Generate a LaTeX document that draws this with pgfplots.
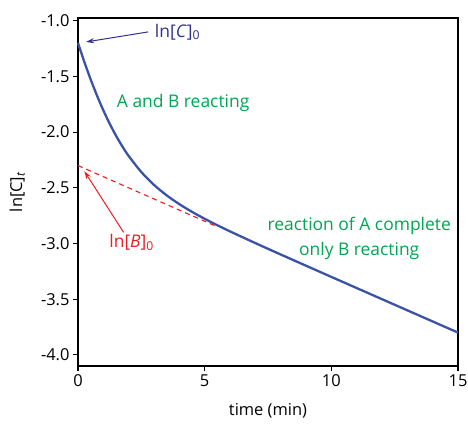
\documentclass[border=0pt]{standalone}
\usepackage{pgfplots}
\pgfplotsset{compat=1.18}
\usetikzlibrary{arrows.meta}
\usepackage{fontspec}
\setmainfont{Open Sans}
\definecolor{curveblue}{HTML}{3A53A4}
\definecolor{navy}{HTML}{2E3192}
\definecolor{myred}{HTML}{ED1C24}
\definecolor{mygreen}{HTML}{00A651}
\begin{document}
\begin{tikzpicture}
\begin{axis}[name=ax, scale only axis, width=380bp, height=348bp,
  xmin=0, xmax=15, ymin=-4.10, ymax=-0.975,
  xtick={0,5,10,15},
  ytick={-4.0,-3.5,-3.0,-2.5,-2.0,-1.5,-1.0},
  yticklabel style={/pgf/number format/.cd, fixed, fixed zerofill, precision=1},
  /pgf/number format/assume math mode=true,
  tick align=outside, tick pos=left, major tick length=5bp,
  every tick/.style={black, line width=1.1bp},
  axis line style={line width=1.2bp},
  tick label style={font=\fontsize{16.5}{19}\selectfont},
  label style={font=\fontsize{16.5}{19}\selectfont},
  xlabel={time (min)}, ylabel={ln[C]\textsubscript{\textit{t}}},
  xlabel style={at={(axis description cs:0.5,-0.129)}, anchor=center},
  ylabel style={at={(axis description cs:-0.16,0.5)}, anchor=center},
  clip=false]
\addplot[curveblue, line width=2.3bp, smooth] coordinates {
(0,-1.2000) (0.25,-1.3694) (0.5,-1.5267) (0.75,-1.6717) (1,-1.8040)
(1.25,-1.9238) (1.5,-2.0316) (1.75,-2.1280) (2,-2.2139) (2.5,-2.3584)
(3,-2.4736) (3.5,-2.5676) (4,-2.6467) (4.5,-2.7157) (5,-2.7780)
(5.5,-2.8359) (6,-2.8910) (7,-2.9963) (8,-3.0985) (10,-3.2998)
(12,-3.5000) (15,-3.8000)};
\addplot[myred, line width=1.1bp, dash pattern=on 5bp off 4bp] coordinates {
(0,-2.30) (5.5,-2.85)};
\draw[navy, line width=1bp, -{Stealth[length=8bp,width=5bp]}] (axis cs:2.77,-1.10) -- (axis cs:0.32,-1.19);
\node[navy, anchor=west, font=\fontsize{17.5}{21}\selectfont] at (axis cs:2.9,-1.10) {ln[\textit{C}]\textsubscript{0}};
\draw[myred, line width=1bp, -{Stealth[length=8bp,width=5bp]}] (axis cs:1.80,-2.90) -- (axis cs:0.25,-2.35);
\node[myred, anchor=west, font=\fontsize{17.5}{21}\selectfont] at (axis cs:1.1,-2.99) {ln[\textit{B}]\textsubscript{0}};
\node[mygreen, font=\fontsize{17.5}{21}\selectfont] at (axis cs:4.15,-1.74) {A and B reacting};
\node[mygreen, font=\fontsize{17.5}{25}\selectfont, align=center] at (axis cs:11.1,-2.955) {reaction of A complete\\only B reacting};
\end{axis}
\pgfresetboundingbox
\path ([shift={(-78bp,-59bp)}]ax.south west) rectangle ([shift={(10bp,18bp)}]ax.north east);
\end{tikzpicture}
\end{document}
